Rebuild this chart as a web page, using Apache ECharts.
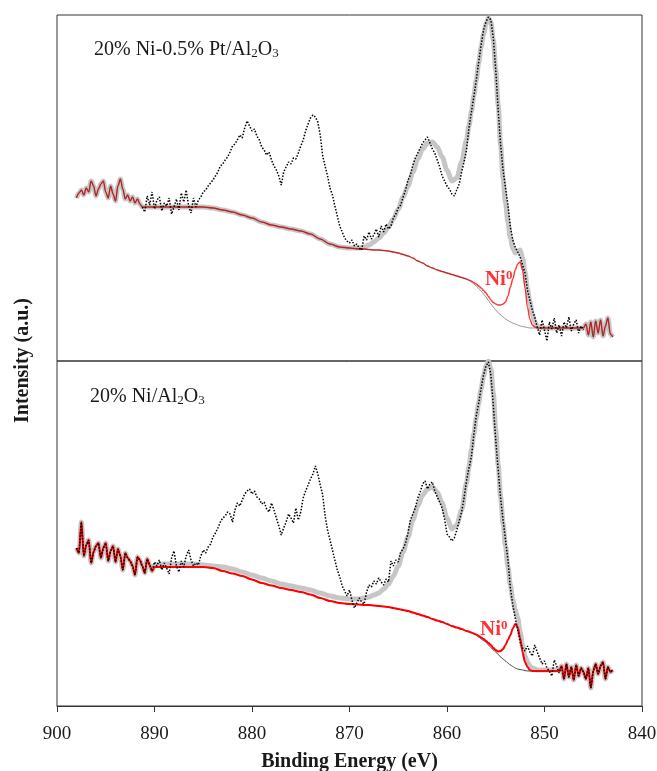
<!DOCTYPE html>
<html><head><meta charset="utf-8">
<script src="https://cdn.jsdelivr.net/npm/echarts@6/dist/echarts.min.js"></script>
<style>html,body{margin:0;padding:0;background:#fff}#c{width:657px;height:771px}</style>
</head><body><div id="c"></div>
<script>
// Binding-energy grid of the measured spectra (eV), high to low
const beStart = 898, beStep = 0.25;

// Measured spectrum, 20% Ni-0.5% Pt/Al2O3 (a.u.), 898.0 -> 843.0 eV
const topData = [
163,168,171,166, 173,169,180,175, 165,172,177,180, 169,163,175,167, 160,175,182,172,
162,166,160,164, 158,162,157,154, 149,165,156,169, 152,161,164,150, 158,155,163,147,
154,162,151,168, 159,171,155,148, 163,154,161,164, 169,171,175,178, 181,185,189,195,
197,201,204,209, 215,217,221,226, 223,233,240,235, 230,232,225,221, 214,211,206,209,
201,195,191,185, 176,189,194,199, 197,203,202,208, 215,221,230,237, 243,246,244,239,
226,205,195,185, 173,166,155,145, 135,129,123,120, 118,121,115,117, 113,111,125,121,
129,122,126,132, 124,135,129,137, 132,135,143,147, 153,156,164,171, 181,186,196,203,
208,213,218,221, 224,218,212,208, 201,194,185,180, 175,172,167,165, 171,177,189,199,
211,233,249,264, 281,299,316,331, 339,344,341,323, 291,251,216,191, 173,156,134,121,
114,109,104,96, 88,71,61,51, 44,34,26,41, 31,20,39,32, 43,28,36,25,
39,33,44,30, 37,41,28,35, 31,37,26,39, 24,40,28,41, 25,35,43,27,
24];
// Measured spectrum, 20% Ni/Al2O3 (a.u.), 898.0 -> 843.0 eV
const botData = [
158,153,184,150, 161,166,143,154, 160,163,148,158, 163,145,155,160, 144,157,150,136,
153,148,145,140, 131,149,146,140, 133,147,141,135, 144,140,146,136, 143,138,132,148,
155,140,134,145, 139,150,156,146, 140,143,141,150, 156,153,159,162, 169,173,178,184,
188,190,194,192, 184,196,203,200, 206,212,215,217, 212,215,209,207, 202,204,197,194,
203,196,188,180, 171,178,184,192, 188,183,198,186, 194,208,215,221, 227,232,240,232,
221,211,190,176, 166,156,146,136, 129,120,115,110, 116,106,98,103, 108,104,102,114,
121,119,125,122, 128,124,121,127, 124,145,140,146, 144,154,157,163, 173,186,192,198,
208,214,222,225, 217,222,224,215, 209,204,198,187, 172,169,165,168, 176,185,194,208,
225,238,249,271, 290,303,318,331, 340,344,331,301, 266,236,208,186, 166,146,118,101,
88,76,64,58, 55,60,54,50, 61,54,48,42, 45,38,35,30, 46,40,33,40,
27,42,29,39, 26,41,30,38, 34,27,38,18, 35,42,32,40, 44,27,39,34,
36];

// Fit (top panel): energies, Shirley background, Ni0 component + background, envelope
const topFitBE = [891,890,889,888,887,886,885,884,883,882,881,880,879,878,877,876,875,874,873,872,871,870,869,
868.5,868,867.5,867,866.5,866,865.5,865,864.5,864,863.5,863,862.5,862,861.5,861,860.5,860,859.5,859,858.5,858,
857.75,857.5,857.25,857,856.75,856.5,856.25,856,855.75,855.5,855.25,855,854.75,854.5,854.25,854,853.75,853.5,853.25,853,852.75,852.5,852.25,852,851.75,851.5,851.25,851,850.75,850.5,
850,849,848,847,846];
const topBg = [154,154,154,154,154,154,154,153,151,149,146,143,139,136,134,132,130,127,122,117,114,113,112,
112,111.5,111,111,110.5,110,109,108,106.5,105,103,100,98,95,93,91,89.5,88,86.5,85,83.5,82,
80.5,79,77,75,72.5,70,67,64,60.5,57,54,51,48.5,46,44,42,40.5,39,38,37,36,35,34.5,34,33.5,33,33,33,33,33,
33,33,33,33,33];
const topNi = [154,154,154,154,154,154,154,153,151,149,146,143,139,136,134,132,130,127,122,117,114,113,112,
112,111.5,111,111,110.5,110,109,108,106.5,105,103,100,98,95,93,91,89.5,88,86.5,85,83.5,82,
81,80,78.5,77,75,73,70.5,68,64.5,61,58.5,57,56,56,57,59,65,74,82,91,97,99,91,73,54,42,36,34,33,33,
33,33,33,33,33];
const topEnv = [154,154,154,154,154,154,154,153,151,149,146,143,139,136,134,132,130,127,122,117,114,113,113,
114,116,119,123,128,134,142,152,164,175,189,202,212,218,219,214,204,191,180,183,199,221,
235,249,265,281,298,314,327,337,343,339,321,291,256,216,183,158,139,123,113,108,110,111,103,89,72,59,47,39,35,34,
33,33,33,33,33];

// Fit (bottom panel)
const botFitBE = [890,889,888,887,886,885,884,883,882,881,880,879,878,877,876,875,874,873,872,871,870,869,
868.5,868,867.5,867,866.5,866,865.5,865,864.5,864,863.5,863,862.5,862,861.5,861,860.5,860,859.5,859,858.5,858,
857.75,857.5,857.25,857,856.75,856.5,856.25,856,855.75,855.5,855.25,855,854.75,854.5,854.25,854,853.75,853.5,853.25,853,852.75,852.5,852.25,852,851.75,851.5,851.25,851,850.75,850.5,
850,849,848.5];
const botBg = [139,139,139,139,139,139,138,135,132.5,130,126.5,123,120.5,118,116,114,111.5,108,105,103,102,101.5,
101,101,100.5,100,99.5,99,98,97,96,95,93.5,92,90.5,89,87,85.5,84,82,80,78.5,77,75,
74,73,72,71,69,67,65.5,64,61,58.5,56,54,51.5,49,47,45,43,41,39.5,38,37,36.5,36,35.5,35,35,35,35,35,35,
35,35,35];
const botNi = [139,139,139,139,139,139,138,135,132.5,130,126.5,123,120.5,118,116,114,111.5,108,105,103,102,101.5,
101,101,100.5,100,99.5,99,98,97,96,95,93.5,92,90.5,89,87,85.5,84,82,80,78.5,77,75,
74.5,73.5,72.5,71.5,70,68.5,67,65,63,61,58,56,54.5,55,57,61,66,71,77.5,82,79,68,54,44,39,36,35,35,35,35,
35,35,35];
const botEnv = [141,142,142,142,142,141,140,139,137,134,131,128,125,122,120,118,116,113,110,108,107,107,
108,109,111,113,117,122,130,140,154,169,186,200,211,217,219,214,203,188,177,181,196,223,
239,256,272,288,303,317,330,340,345,338,313,276,241,209,183,160,139,121,106,96,88,74,60,50,44,40,38,37,36,36,
36,36,36];

// Ni0 annotation anchors [eV, a.u.]
const niLabelTop = [854.7, 81];
const niLabelBot = [855.2, 76];

// X axis
const xMin = 840, xMax = 900, xStep = 10;

[topData, botData].forEach(a => { if (a.length !== 221) throw new Error('data len ' + a.length); });
[[topFitBE, topBg, topNi, topEnv], [botFitBE, botBg, botNi, botEnv]].forEach(g => g.forEach(a => {
  if (a.length !== g[0].length) throw new Error('fit len ' + a.length + ' vs ' + g[0].length); }));

const energies = topData.map((_, i) => beStart - i * beStep);
const pairs = (be, vals) => be.map((b, i) => [b, vals[i]]);
function compose(dataVals, fitBE, fitVals) {
  const hi = fitBE[0], lo = fitBE[fitBE.length - 1];
  const left = [], right = [];
  energies.forEach((b, i) => {
    if (b > hi) left.push([b, dataVals[i]]);
    else if (b < lo) right.push([b, dataVals[i]]);
  });
  return left.concat(pairs(fitBE, fitVals), right);
}
// measured points; optionally only those inside the fitted window
function measured(dataVals, fitBE, insideOnly) {
  const hi = fitBE[0] + beStep, lo = fitBE[fitBE.length - 1];
  const all = pairs(energies, dataVals);
  return insideOnly ? all.filter(p => p[0] <= hi && p[0] >= lo) : all;
}

const FONT = "'Liberation Serif', 'DejaVu Serif', serif";
const chart = echarts.init(document.getElementById('c'), null, { renderer: 'canvas' });

function panelSeries(idx, dataVals, fitBE, bg, ni, env, isTop, labelPos) {
  return [
    { type: 'line', xAxisIndex: idx, yAxisIndex: idx, data: compose(dataVals, fitBE, env),
      showSymbol: false, smooth: 0.3, smoothMonotone: 'x', z: 1, silent: true,
      lineStyle: { color: '#c6c6c6', width: 5 } },
    { type: 'line', xAxisIndex: idx, yAxisIndex: idx, data: compose(dataVals, fitBE, ni),
      showSymbol: false, smooth: 0.3, smoothMonotone: 'x', z: isTop ? 2 : 3, silent: true,
      lineStyle: { color: '#ff0000', width: isTop ? 1.4 : 2, opacity: isTop ? 0.8 : 1 } },
    { type: 'line', xAxisIndex: idx, yAxisIndex: idx, data: compose(dataVals, fitBE, bg),
      showSymbol: false, smooth: 0.3, smoothMonotone: 'x', z: isTop ? 3 : 2, silent: true,
      lineStyle: { color: '#333333', width: 1, opacity: isTop ? 0.5 : 0.9 } },
    { type: 'line', xAxisIndex: idx, yAxisIndex: idx, data: measured(dataVals, fitBE, isTop),
      showSymbol: false, z: 4, silent: true,
      lineStyle: { color: '#000000', width: 1.5, type: [1.5, 1.6] } },
    { type: 'scatter', xAxisIndex: idx, yAxisIndex: idx, data: [labelPos], symbolSize: 1,
      itemStyle: { color: 'rgba(0,0,0,0)' }, z: 5, silent: true,
      label: { show: true, position: 'inside', formatter: '{n|Ni}{p|0}',
        rich: {
          n: { fontFamily: FONT, fontSize: 21, fontWeight: 'bold', color: '#ff0000', lineHeight: 21, verticalAlign: 'bottom' },
          p: { fontFamily: FONT, fontSize: 13, fontWeight: 'bold', color: '#ff0000', lineHeight: 13, verticalAlign: 'top' }
        } } }
  ];
}

const subRich = {
  n: { fontFamily: FONT, fontSize: 20, fontWeight: 'normal', color: '#1a1a1a', lineHeight: 20, verticalAlign: 'top' },
  s: { fontFamily: FONT, fontSize: 13, fontWeight: 'normal', color: '#1a1a1a', lineHeight: 13, padding: [10, 0, 0, 0], verticalAlign: 'bottom' }
};

const hiddenY = (max) => ({ type: 'value', min: 0, max: max, show: false, splitLine: { show: false } });
const baseX = (gi) => ({ type: 'value', gridIndex: gi, min: xMin, max: xMax, interval: xStep, inverse: true,
  splitLine: { show: false }, axisLine: { show: false }, axisTick: { show: false }, axisLabel: { show: false } });

chart.setOption({
  animation: false,
  backgroundColor: '#ffffff',
  title: [
    { left: 89, top: 35, text: '{n|20% Ni-0.5% Pt/Al}{s|2}{n|O}{s|3}', textStyle: { fontWeight: 'normal', rich: subRich } },
    { left: 85, top: 382, text: '{n|20% Ni/Al}{s|2}{n|O}{s|3}', textStyle: { fontWeight: 'normal', rich: subRich } }
  ],
  grid: [
    { left: 57, right: 15, top: 15, height: 346, show: true, borderColor: '#333', borderWidth: 1, outerBoundsMode: 'none', containLabel: false },
    { left: 57, right: 15, top: 361, height: 345, show: true, borderColor: '#333', borderWidth: 1, outerBoundsMode: 'none', containLabel: false },
    { left: 57, right: 15, top: 15, height: 691, outerBoundsMode: 'none', containLabel: false }
  ],
  xAxis: [
    baseX(0),
    Object.assign(baseX(1), {
      axisLine: { show: true, lineStyle: { color: '#333', width: 1 } },
      axisTick: { show: true, inside: false, length: 6, lineStyle: { color: '#333', width: 1 } },
      axisLabel: { show: true, margin: 19, fontFamily: FONT, fontSize: 19, color: '#1a1a1a' },
      name: 'Binding Energy (eV)', nameLocation: 'middle', nameGap: 46,
      nameTextStyle: { fontFamily: FONT, fontSize: 20, fontWeight: 'bold', color: '#1a1a1a' }
    }),
    Object.assign(baseX(2), { show: false })
  ],
  yAxis: [
    Object.assign(hiddenY(346), { gridIndex: 0 }),
    Object.assign(hiddenY(345), { gridIndex: 1 }),
    { type: 'value', gridIndex: 2, min: 0, max: 1, show: true,
      axisLine: { show: false }, axisTick: { show: false }, axisLabel: { show: false }, splitLine: { show: false },
      name: 'Intensity (a.u.)', nameLocation: 'middle', nameRotate: 90, nameGap: 24,
      nameTextStyle: { fontFamily: FONT, fontSize: 20, fontWeight: 'bold', color: '#1a1a1a' } }
  ],
  series: [].concat(
    panelSeries(0, topData, topFitBE, topBg, topNi, topEnv, true, niLabelTop),
    panelSeries(1, botData, botFitBE, botBg, botNi, botEnv, false, niLabelBot)
  )
});
</script>
</body></html>
